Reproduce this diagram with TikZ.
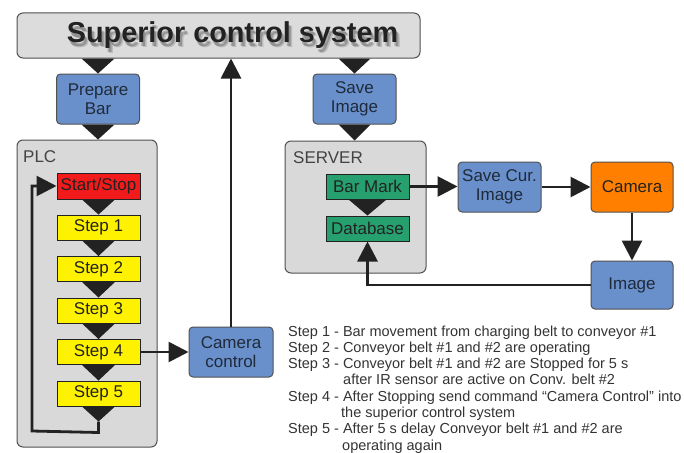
\documentclass[tikz,border=0pt]{standalone}
\usepackage{fontspec}
\setmainfont{Liberation Sans}
\usetikzlibrary{arrows.meta,calc}

\definecolor{panelgray}{HTML}{D9D9D9}
\definecolor{topgray}{HTML}{DCDCDC}
\definecolor{edgegray}{HTML}{505050}
\definecolor{ink}{HTML}{222222}
\definecolor{blockblue}{HTML}{6A90CC}
\definecolor{bluetext}{HTML}{1F2A3A}
\definecolor{stepyellow}{HTML}{FFF200}
\definecolor{stopred}{HTML}{F21A1A}
\definecolor{markgreen}{HTML}{25A06E}
\definecolor{camorange}{HTML}{FF8000}
\definecolor{notegray}{HTML}{333333}

\begin{document}
\begin{tikzpicture}[x=1pt,y=-1pt,
  every node/.style={font=\fontsize{17}{19.5}\selectfont, inner sep=0pt},
  panel/.style={draw=edgegray, fill=panelgray, line width=1pt, rounded corners=6pt},
  blockbox/.style={draw=edgegray, fill=blockblue, text=bluetext, line width=1pt,
    rounded corners=4pt, align=center, minimum width=83pt, minimum height=50pt},
  stepbox/.style={draw=ink, fill=stepyellow, text=ink, line width=1pt,
    minimum width=83pt, minimum height=25pt},
  markbox/.style={draw=ink, fill=markgreen, text=ink, line width=1pt,
    minimum width=83pt, minimum height=25pt},
  conn/.style={draw=ink, line width=2.8pt, line join=miter,
    -{Triangle[length=20pt,width=20pt]}},
  flowtri/.style={fill=ink},
  note/.style={font=\fontsize{14.5}{16}\selectfont, text=notegray, anchor=base west},
  tag/.style={font=\fontsize{17}{19}\selectfont, text=ink!85, anchor=base west},
  titletext/.style={font=\bfseries\fontsize{28.8}{30}\selectfont, anchor=base}
]
\useasboundingbox (0,0) rectangle (684,452);

% top level system
\node[draw=edgegray, fill=topgray, line width=1pt, rounded corners=6pt,
  minimum width=403pt, minimum height=45pt] (sup) at (218.5,35.5) {};
% soft drop shadow under the title
\node[titletext, text=black, opacity=0.22] (supshadowa) at (234.5,46) {Superior control system};
\node[titletext, text=black, opacity=0.15] (supshadowb) at (236,47.5) {Superior control system};
\node[titletext, text=ink] (suptitle) at (232.5,43) {Superior control system};

% containers
\node[panel, minimum width=140pt, minimum height=307pt] (plc) at (87,293.5) {};
\node[tag] (plctag) at (23,162) {PLC};
\node[panel, minimum width=141pt, minimum height=132pt] (srv) at (355.5,207) {};
\node[tag] (srvtag) at (293,163) {SERVER};

% command blocks
\node[blockbox] (prep) at (98,99) {Prepare\\Bar};
\node[blockbox] (save) at (354.5,99) {Save\\Image};
\node[blockbox, minimum width=84pt] (camctl) at (231,352) {Camera\\control};
\node[blockbox] (savecur) at (499.5,187) {Save Cur.\\Image};
\node[blockbox, fill=camorange, text=ink, minimum width=82pt] (camera) at (632,187) {Camera};
\node[blockbox, minimum width=82pt, minimum height=48pt] (img) at (632,285) {Image};

% PLC sequence
\node[stepbox, fill=stopred, minimum height=26pt] (ss) at (98.5,186) {Start/Stop};
\node[stepbox] (s1) at (98.5,227.5) {Step 1};
\node[stepbox] (s2) at (98.5,269) {Step 2};
\node[stepbox] (s3) at (98.5,310.5) {Step 3};
\node[stepbox] (s4) at (98.5,352) {Step 4};
\node[stepbox] (s5) at (98.5,393.5) {Step 5};

% server contents
\node[markbox] (bm) at (367.5,186.5) {Bar Mark};
\node[markbox] (db) at (367.5,228.5) {Database};

% wedge connectors
\fill[flowtri] ($(prep.north|-sup.south)+(-16.5,0)$) -- ($(prep.north|-sup.south)+(16.5,0)$) -- (prep.north) -- cycle;
\fill[flowtri] ($(save.north|-sup.south)+(-16,0)$) -- ($(save.north|-sup.south)+(16,0)$) -- (save.north) -- cycle;
\fill[flowtri] ($(prep.south)+(-16.5,0)$) -- ($(prep.south)+(16.5,0)$) -- (prep.south|-plc.north) -- cycle;
\fill[flowtri] ($(save.south)+(-16,0)$) -- ($(save.south)+(16,0)$) -- (save.south|-srv.north) -- cycle;
\foreach \a/\b in {ss/s1, s1/s2, s2/s3, s3/s4, s4/s5}
  \fill[flowtri] ($(\a.south)+(-16.5,0)$) -- ($(\a.south)+(16.5,0)$) -- (\b.north) -- cycle;
\coordinate (looptip) at ($(s5.south)+(0,15)$);
\fill[flowtri] ($(s5.south)+(-16.5,0)$) -- ($(s5.south)+(16.5,0)$) -- (looptip) -- cycle;
\fill[flowtri] ($(bm.south)+(-19,0)$) -- ($(bm.south)+(19,0)$) -- (db.north) -- cycle;

% arrows
\coordinate (loopbottom) at ($(looptip)+(0,11)$);
\coordinate (loopcorner) at (32,431);
\draw[conn] (looptip) -- (loopbottom) -- (loopcorner) |- (ss.west);
\draw[conn] (s4.east) -- (camctl.west);
\draw[conn] (camctl.north) -- (camctl.north|-sup.south);
\draw[conn] (bm.east) -- (bm.east-|savecur.west);
\draw[conn] (savecur.east) -- (camera.west);
\draw[conn] (camera.south) -- (img.north);
\draw[conn] (img.west) -| (db.south);

% step descriptions
\node[note] (d1) at (288,336) {Step 1 - Bar movement from charging belt to conveyor \#1};
\node[note] (d2) at (288,352.3) {Step 2 - Conveyor belt \#1 and \#2 are operating};
\node[note] (d3) at (288,368.6) {Step 3 - Conveyor belt \#1 and \#2 are Stopped for 5 s};
\node[note] (d3b) at (343,384.9) {after IR sensor are active on Conv. belt \#2};
\node[note] (d4) at (288,401.2) {Step 4 - After Stopping send command “Camera Control” into};
\node[note] (d4b) at (341,417.5) {the superior control system};
\node[note] (d5) at (288,433.8) {Step 5 - After 5 s delay Conveyor belt \#1 and \#2 are};
\node[note] (d5b) at (342,450) {operating again};
\end{tikzpicture}
\end{document}
